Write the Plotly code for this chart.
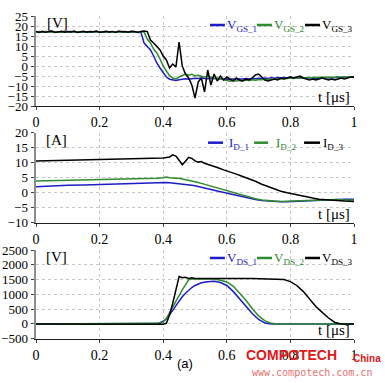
import plotly.graph_objects as go

# ---------------- data ----------------
t1 = [0.00,0.01,0.02,0.03,0.04,0.05,0.06,0.07,0.08,0.09,
      0.10,0.11,0.12,0.13,0.14,0.15,0.16,0.17,0.18,0.19,
      0.20,0.21,0.22,0.23,0.24,0.25,0.26,0.27,0.28,0.29,
      0.30,0.31,0.32,0.33,0.34,0.35,0.36,0.37,0.38,0.39,
      0.40,0.41,0.42,0.43,0.44,0.45,0.46,0.47,0.48,0.49,
      0.50,0.51,0.52,0.53,0.54,0.55,0.56,0.57,0.58,0.59,
      0.60,0.61,0.62,0.63,0.64,0.65,0.66,0.67,0.68,0.69,
      0.70,0.71,0.72,0.73,0.74,0.75,0.76,0.77,0.78,0.79,
      0.80,0.81,0.82,0.83,0.84,0.85,0.86,0.87,0.88,0.89,
      0.90,0.91,0.92,0.93,0.94,0.95,0.96,0.97,0.98,0.99,1.00]

vgs_1 = [17.0,17.2,16.9,17.1,17.0,17.2,16.9,17.0,17.1,16.9,
         17.0,17.2,17.0,16.9,17.1,17.0,17.1,16.9,17.0,17.2,
         17.0,16.9,17.1,17.0,16.9,17.1,17.0,17.2,16.9,17.0,
         17.1,17.0,16.9,
         16.8,11.5,10.0,8.0,5.0,1.5,-1.0,-3.5,-5.5,-6.6,
         -7.0,-7.2,-6.9,-6.6,-6.4,-6.6,-6.3,-6.1,
         -6.3,-6.0,-6.2,-6.4,-6.1,-6.3,-6.5,-6.4,-6.6,-6.5,
         -6.7,-6.5,-6.6,-6.4,-6.5,-6.3,-6.5,-6.2,-6.4,-6.1,
         -6.3,-6.0,-6.2,-5.9,-6.1,-5.8,-6.0,-5.7,-5.9,-5.6,
         -5.8,-6.0,-5.7,-5.9,-6.1,-5.8,-6.0,-6.2,-5.9,-6.1,
         -5.8,-6.0,-5.7,-5.9,-5.6,-5.8,-5.5,-5.7,-5.5,-5.6]

vgs_2 = [17.1,16.9,17.0,17.2,17.0,16.9,17.1,17.0,17.2,16.9,
         17.0,17.1,16.9,17.0,17.2,17.0,16.9,17.1,17.0,17.1,
         16.9,17.0,17.2,17.0,16.9,17.1,17.0,16.9,17.1,17.0,
         17.2,17.0,16.9,17.1,17.0,
         13.5,11.5,8.5,6.5,3.5,0.0,-2.5,-4.8,-6.0,-6.5,
         -5.5,-4.6,-4.0,-4.6,-4.1,-5.0,
         -4.6,-5.1,-5.5,-5.0,-5.8,-6.2,-6.0,-6.6,-6.9,-7.2,
         -7.6,-7.3,-7.5,-7.2,-7.4,-7.0,-7.2,-6.9,-7.1,-6.8,
         -6.9,-6.6,-6.8,-6.5,-6.6,-6.3,-6.5,-6.2,-6.3,-6.0,
         -6.2,-5.9,-6.1,-5.8,-6.0,-5.7,-5.9,-5.6,-5.8,-5.5,
         -5.7,-5.5,-5.8,-5.6,-5.4,-5.6,-5.5,-5.7,-5.5,-5.4]

vgs_3 = [17.3,16.8,17.4,16.9,17.2,17.5,16.8,17.1,17.4,16.9,
         17.3,17.0,17.5,16.8,17.2,17.4,16.9,17.3,17.1,17.5,
         16.8,17.2,17.4,17.0,17.3,16.8,17.5,17.1,17.3,16.9,
         17.4,17.2,16.8,17.3,17.5,17.2,
         13.0,11.5,10.0,8.0,5.0,3.0,-1.0,1.0,-0.5,12.0,
         0.0,-4.0,-6.0,-9.5,-16.0,-8.0,-6.0,-13.0,-2.0,-9.5,
         -4.0,-7.5,-5.0,-7.0,-5.5,
         -6.5,-7.5,-6.0,-7.0,-7.5,-6.5,-7.0,-6.0,-4.5,-4.0,
         -5.5,-7.0,-7.5,-7.0,-6.5,-7.0,-6.0,-6.5,-6.0,-5.5,
         -6.0,-5.5,-5.0,-6.0,-6.5,-7.0,-6.5,-7.0,-6.5,-6.0,
         -6.5,-7.0,-6.5,-7.0,-6.5,-6.0,-6.5,-6.0,-5.5,-5.5]

t2 = [0.00,0.05,0.10,0.15,0.20,0.25,0.30,0.35,0.38,0.40,
      0.41,0.42,0.43,0.44,0.45,0.46,0.47,0.48,0.49,0.50,
      0.51,0.52,0.53,0.54,0.55,0.57,0.59,0.61,0.63,0.65,
      0.67,0.69,0.71,0.73,0.75,0.77,0.79,0.81,0.83,0.85,
      0.87,0.89,0.91,0.93,0.95,0.97,1.00]

id_1 = [2.0,2.3,2.5,2.6,2.8,2.9,3.0,3.2,3.3,3.5,
        3.4,3.3,3.2,3.2,3.1,3.0,2.9,2.7,2.5,2.3,
        2.1,1.9,1.7,1.4,1.1,0.6,0.1,-0.4,-0.9,-1.5,
        -2.0,-2.3,-2.6,-2.8,-2.9,-3.0,-3.0,-2.9,-2.8,-2.6,
        -2.5,-2.4,-2.3,-2.2,-2.2,-2.2,-2.2]

id_2 = [3.9,4.0,4.1,4.2,4.3,4.4,4.5,4.7,4.8,5.0,
        5.2,5.0,4.8,4.8,4.8,4.6,4.4,4.2,3.9,3.6,
        3.4,3.1,2.8,2.5,2.2,1.6,1.0,0.3,-0.3,-0.9,
        -1.5,-2.0,-2.4,-2.7,-2.8,-2.9,-2.9,-2.8,-2.7,-2.6,
        -2.5,-2.4,-2.3,-2.3,-2.3,-2.4,-2.4]

id_3 = [10.6,10.7,10.8,10.9,11.0,11.1,11.2,11.4,11.5,11.6,
        11.7,11.9,12.6,12.2,10.8,9.3,10.5,11.8,11.4,10.6,
        10.2,10.4,9.8,9.5,9.1,8.4,7.6,7.0,6.2,5.4,
        4.7,3.8,2.8,2.0,1.2,0.5,0.0,-0.5,-0.9,-1.4,
        -1.8,-2.2,-2.4,-2.6,-2.7,-2.8,-2.9]

t3 = [0.00,0.10,0.20,0.30,0.36,0.38,0.39,0.40,0.41,0.42,
      0.43,0.44,0.45,0.46,0.47,0.48,0.49,0.50,0.52,0.54,
      0.56,0.58,0.60,0.62,0.64,0.66,0.68,0.70,0.72,0.74,
      0.76,0.78,0.80,0.82,0.84,0.86,0.88,0.90,0.92,0.94,
      0.96,0.98,1.00]

vds_1 = [0,0,0,0,0,10,40,90,170,300,
         460,620,780,920,1040,1140,1230,1300,1390,1430,
         1440,1400,1300,1100,850,620,350,150,30,0,
         0,0,0,0,0,0,0,0,0,0,
         0,0,0]

vds_2 = [0,0,0,0,0,5,20,60,180,380,
         560,760,960,1150,1330,1490,1520,1520,1525,1525,
         1520,1480,1420,1280,1050,800,520,270,100,20,
         0,0,0,0,0,0,0,0,0,0,
         0,0,0]

vds_3 = [0,0,0,0,0,0,0,-10,20,300,
         700,1150,1600,1560,1580,1540,1560,1540,1550,1535,
         1540,1535,1540,1535,1540,1535,1540,1535,1540,1535,
         1530,1500,1430,1300,1100,860,590,390,200,50,
         0,0,0]

x_ticks = [0, 0.2, 0.4, 0.6, 0.8, 1]
x_tick_text = ["0", "0.2", "0.4", "0.6", "0.8", "1"]

names_vgs = ["V<sub>GS_1</sub>", "V<sub>GS_2</sub>", "V<sub>GS_3</sub>"]
names_id = ["I<sub>D_1</sub>", "I<sub>D_2</sub>", "I<sub>D_3</sub>"]
names_vds = ["V<sub>DS_1</sub>", "V<sub>DS_2</sub>", "V<sub>DS_3</sub>"]
units = ["[V]", "[A]", "[V]"]

# ---------------- style ----------------
colors = ["#1c1cc8", "#2e8b2e", "#000000"]
SERIF = "Liberation Serif, Times New Roman, serif"
SANS = "Liberation Sans, Arial, sans-serif"
W, H = 385, 383

fig = go.Figure()

panels = [
    (t1, [vgs_1, vgs_2, vgs_3], names_vgs, "x", "y"),
    (t2, [id_1, id_2, id_3], names_id, "x2", "y2"),
    (t3, [vds_1, vds_2, vds_3], names_vds, "x3", "y3"),
]
for tt, series, names, xa, ya in panels:
    for s, c, n in zip(series, colors, names):
        fig.add_trace(go.Scatter(x=tt, y=s, mode="lines", name=n,
                                 line=dict(color=c, width=1.5),
                                 xaxis=xa, yaxis=ya, showlegend=False,
                                 hoverinfo="skip"))

x_dom = [36 / W, 354 / W]
y_doms = [[277 / H, 367 / H], [160.3 / H, 250.3 / H], [44.3 / H, 133 / H]]
y_ranges = [[-20, 25], [-10, 20], [-500, 2500]]
y_dticks = [5, 5, 500]

common_x = dict(range=[0, 1], tickvals=x_ticks, ticktext=x_tick_text,
                showgrid=True, gridcolor="#c8c8c8", griddash="dot", gridwidth=1,
                showline=True, linecolor="#202020", linewidth=1,
                ticks="outside", ticklen=3, tickcolor="#404040",
                tickfont=dict(family=SERIF, size=14, color="#000"),
                zeroline=False, fixedrange=True, automargin=False)

layout = dict(width=W, height=H, margin=dict(l=0, r=0, t=0, b=0, autoexpand=False),
              paper_bgcolor="white", plot_bgcolor="white", showlegend=False,
              hovermode=False)

for i in range(3):
    sx = "" if i == 0 else str(i + 1)
    layout["xaxis" + sx] = dict(common_x, domain=x_dom, anchor="y" + sx)
    layout["yaxis" + sx] = dict(range=y_ranges[i], dtick=y_dticks[i], tick0=0,
                                domain=y_doms[i], anchor="x" + sx,
                                showgrid=True, gridcolor="#c8c8c8", griddash="dot",
                                showline=True, linecolor="#8c8c8c", linewidth=2.5,
                                ticks="outside", ticklen=3, tickcolor="#404040",
                                tickfont=dict(family=SERIF, size=13, color="#000"),
                                zeroline=False, fixedrange=True, automargin=False)
fig.update_layout(**layout)

shapes = []
annotations = []
leg_lines = [[(0.547, 0.594), (0.695, 0.742), (0.846, 0.893)],
             [(0.541, 0.588), (0.686, 0.730), (0.843, 0.893)],
             [(0.547, 0.594), (0.695, 0.742), (0.846, 0.893)]]
leg_text_x = [[0.597, 0.745, 0.896], [0.604, 0.752, 0.899], [0.597, 0.745, 0.896]]
leg_y = [0.9, 0.889, 0.91]
unit_pos = [(0.069, 0.922), (0.063, 0.919), (0.064, 0.925)]
name_sets = [names_vgs, names_id, names_vds]

for i in range(3):
    sx = "" if i == 0 else str(i + 1)
    xr, yr = "x" + sx, "y" + sx + " domain"
    for j in range(3):
        x0, x1 = leg_lines[i][j]
        shapes.append(dict(type="line", xref=xr, yref=yr, x0=x0, x1=x1,
                           y0=leg_y[i], y1=leg_y[i],
                           line=dict(color=colors[j], width=2.5)))
        annotations.append(dict(xref=xr, yref=yr, x=leg_text_x[i][j], y=leg_y[i] - 0.01,
                                text=name_sets[i][j], showarrow=False,
                                xanchor="left", yanchor="middle", borderpad=0,
                                font=dict(family=SERIF, size=13, color=colors[j])))
    annotations.append(dict(xref="x" + sx + " domain", yref=yr,
                            x=unit_pos[i][0], y=unit_pos[i][1], text=units[i],
                            showarrow=False, xanchor="center", yanchor="middle",
                            font=dict(family=SERIF, size=15, color="#000")))
    annotations.append(dict(xref="x" + sx + " domain", yref=yr,
                            x=0.937, y=0.1, text="t [\u03bcs]",
                            showarrow=False, xanchor="center", yanchor="middle",
                            font=dict(family=SERIF, size=15, color="#000")))

annotations.append(dict(xref="paper", yref="paper", x=185 / W, y=(H - 363) / H,
                        text="(a)", showarrow=False, xanchor="center", yanchor="middle",
                        font=dict(family=SANS, size=13, color="#000")))
# watermark
annotations.append(dict(xref="paper", yref="paper", x=244 / W, y=(H - 355) / H,
                        text="<b>COMPOTECH</b>", showarrow=False, xanchor="left", yanchor="middle",
                        font=dict(family=SANS, size=14, color="#e01818")))
annotations.append(dict(xref="paper", yref="paper", x=351 / W, y=(H - 358) / H,
                        text="<b>China</b>", showarrow=False, xanchor="left", yanchor="middle",
                        font=dict(family=SANS, size=10, color="#e01818")))
annotations.append(dict(xref="paper", yref="paper", x=312 / W, y=(H - 372) / H,
                        text="www.compotech.com.cn", showarrow=False, xanchor="center", yanchor="middle",
                        font=dict(family="DejaVu Sans Mono, monospace", size=10, color="#e87070")))

fig.update_layout(shapes=shapes, annotations=annotations)
fig.write_html("out.html", config={"displayModeBar": False, "staticPlot": True},
               post_script="document.body.style.margin='0';document.body.style.overflow='hidden';")
